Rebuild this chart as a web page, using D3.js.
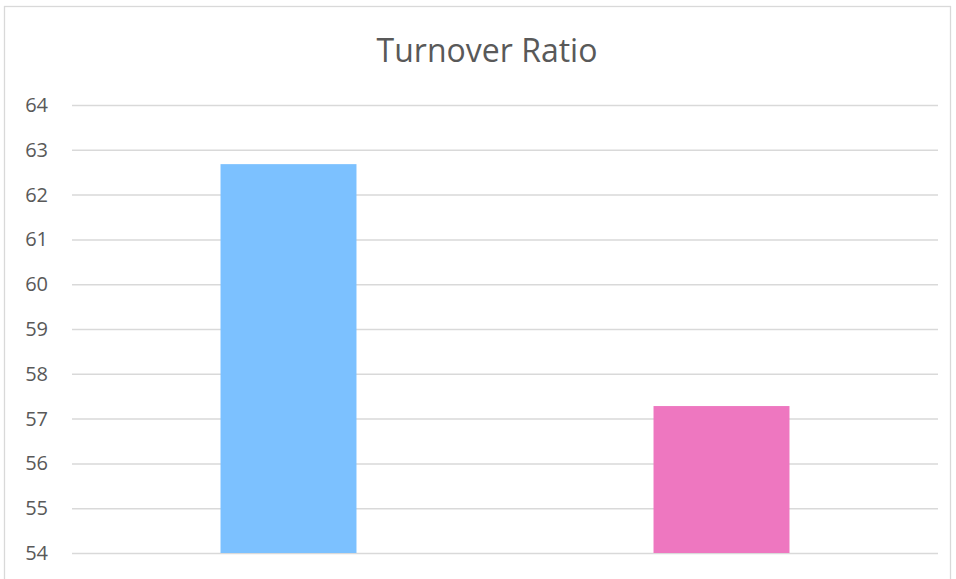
<!DOCTYPE html>
<html><head><meta charset="utf-8">
<script src="https://cdn.jsdelivr.net/npm/d3@7"></script>
<style>body{margin:0;background:#fff}svg{display:block}</style>
</head><body>
<script>
const categories = ["A", "B"];
const values = [62.68, 57.28];
const colors = ["#7cc1ff", "#ee77c0"];
const yTicks = [54, 55, 56, 57, 58, 59, 60, 61, 62, 63, 64];
const title = "Turnover Ratio";

(function () {
const W = 956, H = 579;
const svg = d3.select("body").append("svg").attr("width", W).attr("height", H);
svg.append("rect").attr("x", 4.5).attr("y", 6.5).attr("width", 946).attr("height", 600)
  .attr("fill", "#fff").attr("stroke", "#d9d9d9").attr("stroke-width", 1.3);

const mLeft = 72, mRight = 938, mTop = 105, mBottom = 553;
const y = d3.scaleLinear().domain([54, 64]).range([mBottom, mTop]);
const x = d3.scaleBand().domain(categories).range([mLeft, mRight]).paddingInner(0.686).paddingOuter(0.343);

const grid = svg.append("g").attr("transform", `translate(${mLeft},0)`)
  .call(d3.axisLeft(y).tickValues(yTicks).tickSize(-(mRight - mLeft)).tickFormat(d3.format("d")).tickPadding(24));
grid.select(".domain").remove();
grid.selectAll(".tick line").attr("stroke", "#d9d9d9").attr("stroke-width", 1.5);
grid.selectAll(".tick text").attr("fill", "#595959").style("font-family", "'Open Sans', sans-serif").style("font-size", "20px");

svg.append("g").selectAll("rect").data(values).join("rect")
  .attr("x", (d, i) => x(categories[i]))
  .attr("width", x.bandwidth())
  .attr("y", d => y(d))
  .attr("height", d => y(54) - y(d))
  .attr("fill", (d, i) => colors[i]);

svg.append("text").attr("x", 487).attr("y", 62).attr("text-anchor", "middle")
  .attr("fill", "#595959").style("font-family", "'Open Sans', sans-serif").style("font-size", "32px")
  .text(title);
})();
</script>
</body></html>
